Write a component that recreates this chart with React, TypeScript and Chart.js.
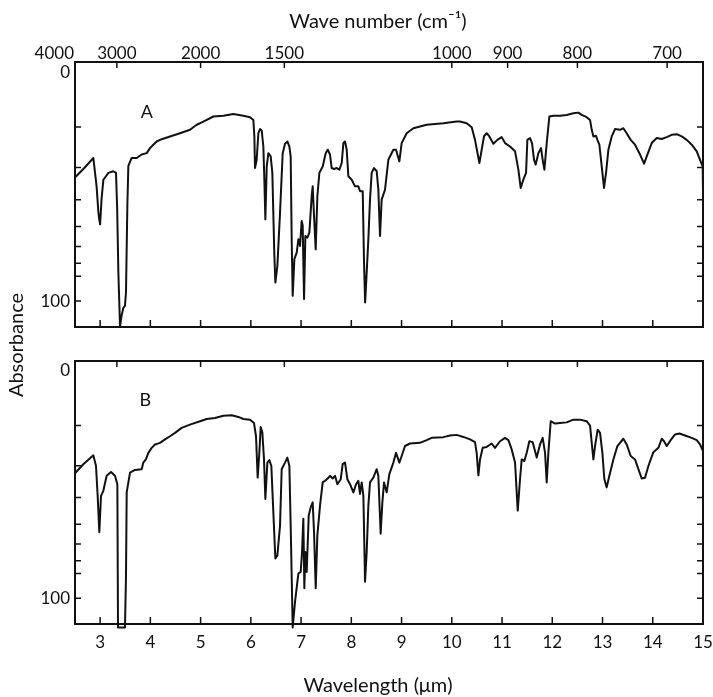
import React, { useEffect, useRef } from "react";
import { Chart, registerables } from "chart.js";

Chart.register(...registerables);

// ---- axis definitions ----
const wavelengthTicks = [3, 4, 5, 6, 7, 8, 9, 10, 11, 12, 13, 14, 15];
const waveNumberTicks = [4000, 3000, 2000, 1500, 1000, 900, 800, 700];
const absorbanceTickMarks = [24, 41.7, 55.7, 67.4, 76.1, 83.5, 89.1, 100];
const absorbanceLabels = [0, 100];

// ---- spectra: [wavelength (um), absorbance units] ----
const spectrumA: [number, number][] = [
  [2.5, 46], [2.68, 42], [2.865, 37.5], [2.93, 50], [2.965, 61], [2.98, 64], [3.0, 66.5], [3.03, 55],
  [3.065, 47], [3.165, 44], [3.26, 43.3], [3.316, 44], [3.34, 60], [3.363, 87.5], [3.396, 111],
  [3.43, 106], [3.462, 103], [3.495, 102], [3.515, 96], [3.542, 58.5], [3.562, 41], [3.628, 37.5],
  [3.728, 37.5], [3.827, 36], [3.927, 35.4], [3.993, 33.2], [4.059, 31.7], [4.126, 30.3], [4.225, 29.3],
  [4.391, 28.1], [4.59, 26.7], [4.789, 25.2], [4.922, 23], [5.055, 21.6], [5.254, 19.4], [5.453, 19.1],
  [5.652, 18.3], [5.851, 19.1], [5.984, 19.7], [6.05, 20.9], [6.07, 28], [6.083, 41.9], [6.116, 38.3],
  [6.15, 26.7], [6.183, 24.9], [6.216, 25.5], [6.249, 32.5], [6.269, 47], [6.289, 64.3], [6.316, 41.2],
  [6.349, 35.4], [6.395, 36.8], [6.428, 44], [6.468, 80], [6.488, 91.9], [6.528, 84.6], [6.581, 61.4],
  [6.634, 35.4], [6.68, 31.3], [6.727, 30.3], [6.767, 32.5], [6.793, 36.8], [6.813, 73], [6.833, 97.7],
  [6.866, 81.7], [6.913, 78.8], [6.946, 73], [6.979, 75.9], [7.012, 65], [7.032, 67], [7.059, 99.1],
  [7.085, 71.6], [7.125, 72.3], [7.165, 70.1], [7.211, 54.2], [7.231, 49.9], [7.258, 62.9], [7.291, 77.4],
  [7.324, 54.2], [7.364, 44], [7.43, 41.2], [7.49, 35.4], [7.53, 33.9], [7.576, 36], [7.609, 41.9],
  [7.656, 42.3], [7.709, 41.9], [7.762, 42.6], [7.809, 39.7], [7.842, 31], [7.875, 30.3], [7.908, 33.9],
  [7.941, 45.5], [8.008, 47], [8.074, 49.9], [8.14, 49.9], [8.173, 52], [8.227, 52], [8.253, 83.2],
  [8.275, 100.6], [8.306, 87.5], [8.339, 73], [8.372, 55.7], [8.405, 44], [8.452, 41.9], [8.505, 43.3],
  [8.538, 51.3], [8.571, 71.6], [8.604, 55.7], [8.671, 51.3], [8.737, 38.3], [8.837, 33.9], [8.89, 33.9],
  [8.956, 39], [9.002, 31], [9.102, 26.7], [9.235, 24.5], [9.5, 23], [9.832, 22.3], [10.097, 21.6],
  [10.164, 21.6], [10.296, 22.3], [10.396, 24.1], [10.462, 29.6], [10.549, 39.7], [10.595, 33.9],
  [10.641, 28], [10.695, 26.7], [10.748, 28.1], [10.827, 31.3], [10.907, 29.6], [10.993, 28.4],
  [11.06, 31], [11.159, 32.5], [11.259, 34.6], [11.325, 42.6], [11.371, 50.6], [11.424, 47],
  [11.478, 44], [11.504, 29.6], [11.557, 28.8], [11.597, 31], [11.637, 38.3], [11.67, 40.4],
  [11.723, 35.4], [11.776, 33.2], [11.809, 38.3], [11.843, 42.6], [11.889, 31], [11.942, 19.4],
  [12.022, 19.1], [12.154, 19.1], [12.287, 18.7], [12.42, 18], [12.519, 17.7], [12.586, 18.7],
  [12.685, 19.7], [12.752, 20.9], [12.785, 25.2], [12.818, 28.1], [12.871, 27.8], [12.898, 29.6],
  [12.937, 31.7], [12.984, 41.2], [13.03, 50.6], [13.07, 44], [13.117, 33.9], [13.183, 28.1],
  [13.249, 24.9], [13.349, 25.2], [13.415, 24.5], [13.481, 26.7], [13.561, 29.6], [13.647, 31.7],
  [13.747, 36], [13.827, 40], [13.88, 36.8], [13.979, 31], [14.079, 28.8], [14.178, 29.2],
  [14.278, 28.4], [14.377, 27.4], [14.477, 27.1], [14.576, 28.1], [14.676, 29.6], [14.776, 31.7],
  [14.875, 34.6], [14.941, 38.3], [14.994, 41.2], [15.0, 53],
];

const spectrumB: [number, number][] = [
  [2.5, 45], [2.666, 41], [2.865, 37.1], [2.918, 41.8], [2.951, 54.9], [2.984, 70.9], [3.018, 54.9],
  [3.064, 52.7], [3.13, 46.1], [3.217, 44.4], [3.296, 46.1], [3.343, 49.8], [3.356, 112.8], [3.495, 112.8],
  [3.515, 90], [3.529, 53.4], [3.595, 44.7], [3.694, 43.5], [3.827, 43.2], [3.86, 40.3], [3.913, 38.8],
  [3.96, 36], [4.026, 33.8], [4.093, 32.3], [4.192, 31.6], [4.292, 30.1], [4.391, 28.7], [4.491, 27.2],
  [4.623, 25], [4.789, 23.6], [4.988, 22.1], [5.121, 21.1], [5.287, 20.7], [5.453, 19.7], [5.619, 19.5],
  [5.752, 20.2], [5.851, 21.1], [5.984, 21.4], [6.063, 22.9], [6.103, 28.7], [6.136, 46.9], [6.169, 36],
  [6.196, 24.6], [6.229, 27], [6.262, 38.9], [6.289, 56.3], [6.329, 40.3], [6.369, 39.2], [6.408, 41.8],
  [6.448, 62.2], [6.488, 82.5], [6.528, 81.1], [6.581, 68], [6.614, 43.2], [6.68, 40.3], [6.727, 38.1],
  [6.767, 41.8], [6.793, 68], [6.833, 112.8], [6.88, 101.5], [6.946, 89.1], [6.992, 88.4], [7.019, 79.6],
  [7.045, 65], [7.065, 95.6], [7.085, 79.6], [7.112, 88.4], [7.152, 63.6], [7.191, 60], [7.231, 57.8],
  [7.258, 70.9], [7.291, 95.6], [7.324, 72.3], [7.377, 59.2], [7.43, 49], [7.477, 48.3], [7.53, 47.3],
  [7.576, 46.1], [7.629, 47.3], [7.676, 46.1], [7.722, 49.8], [7.789, 47.6], [7.828, 41], [7.875, 40.3],
  [7.921, 47.6], [7.974, 49.8], [8.041, 53.4], [8.094, 49.8], [8.14, 48.3], [8.173, 54.1], [8.207, 49],
  [8.24, 54.9], [8.273, 92.7], [8.306, 79.6], [8.339, 59.2], [8.372, 49], [8.438, 46.9], [8.505, 43.2],
  [8.538, 46.1], [8.584, 71.6], [8.618, 57.8], [8.651, 49], [8.704, 53.4], [8.757, 45.4], [8.837, 40.3],
  [8.89, 36], [8.956, 40.3], [9.002, 37.4], [9.069, 33], [9.168, 31.9], [9.367, 31.6], [9.5, 30.4],
  [9.6, 29.4], [9.832, 29.1], [9.965, 28.4], [10.097, 28.1], [10.23, 29], [10.363, 30.1], [10.462, 31.3],
  [10.495, 36], [10.529, 45.9], [10.562, 38.9], [10.615, 33.8], [10.695, 33.4], [10.794, 31.9],
  [10.86, 33.8], [10.96, 30.9], [11.059, 29.4], [11.126, 30.4], [11.192, 34.5], [11.259, 40.3],
  [11.312, 61.4], [11.358, 47.6], [11.391, 38.9], [11.444, 39.6], [11.491, 36], [11.544, 30.9],
  [11.61, 31.3], [11.69, 38.1], [11.756, 32.3], [11.809, 29.4], [11.856, 36], [11.889, 49], [11.922, 36],
  [11.969, 22.1], [12.055, 23.1], [12.154, 22.9], [12.287, 22.6], [12.42, 21.4], [12.552, 21.4],
  [12.685, 22.1], [12.752, 24], [12.785, 31.6], [12.818, 38.9], [12.851, 33], [12.904, 25.8],
  [12.951, 27.2], [12.997, 36], [13.037, 47.6], [13.083, 51.2], [13.136, 46.1], [13.216, 38.9],
  [13.296, 33], [13.415, 29.8], [13.481, 32.3], [13.561, 37.4], [13.647, 38.9], [13.714, 43.2],
  [13.78, 47.3], [13.846, 47], [13.913, 41.8], [14.012, 35.7], [14.112, 33.8], [14.178, 29.8],
  [14.225, 30.9], [14.278, 33], [14.357, 30.4], [14.443, 27.9], [14.53, 27.5], [14.643, 28.4],
  [14.776, 29.4], [14.875, 30.4], [14.941, 32.3], [15.0, 35.2],
];

const FONT = "Lato, 'DejaVu Sans', sans-serif";
const INK = "#111";

type PanelOpts = {
  panel: "A" | "B";
};

const framePlugin = {
  id: "irFrame",
  afterDraw(chart: any, _args: any, opts: PanelOpts) {
    const { ctx, chartArea: a, scales } = chart;
    const x = scales.x;
    const y = scales.y;
    ctx.save();
    ctx.strokeStyle = INK;
    ctx.fillStyle = INK;
    ctx.lineWidth = 2;
    ctx.strokeRect(a.left, a.top, a.right - a.left, a.bottom - a.top);

    ctx.lineWidth = 1.5;
    ctx.beginPath();
    for (const wn of waveNumberTicks) {
      const px = x.getPixelForValue(10000 / wn);
      if (px > a.left + 2 && px < a.right - 2) {
        ctx.moveTo(px, a.top);
        ctx.lineTo(px, a.top + 6);
      }
    }
    for (const w of wavelengthTicks) {
      const px = x.getPixelForValue(w);
      if (px > a.left + 2 && px < a.right - 2) {
        ctx.moveTo(px, a.bottom);
        ctx.lineTo(px, a.bottom - 7);
      }
    }
    for (const v of absorbanceTickMarks) {
      const py = y.getPixelForValue(v);
      ctx.moveTo(a.left, py);
      ctx.lineTo(a.left + 6, py);
      ctx.moveTo(a.right, py);
      ctx.lineTo(a.right - 6, py);
    }
    ctx.stroke();

    ctx.font = `17px ${FONT}`;
    ctx.textAlign = "right";
    ctx.textBaseline = "middle";
    for (const v of absorbanceLabels) {
      ctx.fillText(String(v), a.left - 5, y.getPixelForValue(v));
    }

    ctx.font = `18px ${FONT}`;
    ctx.textAlign = "center";
    if (opts.panel === "A") {
      ctx.fillText("A", x.getPixelForValue(3.93), y.getPixelForValue(17.4));
      ctx.font = `17px ${FONT}`;
      ctx.textBaseline = "alphabetic";
      for (const wn of waveNumberTicks) {
        const px = x.getPixelForValue(10000 / wn);
        if (wn === 4000) {
          ctx.textAlign = "right";
          ctx.fillText(String(wn), px - 1, a.top - 3);
        } else {
          ctx.textAlign = "center";
          ctx.fillText(String(wn), px, a.top - 3);
        }
      }
      ctx.font = `20px ${FONT}`;
      ctx.textAlign = "center";
      ctx.textBaseline = "middle";
      ctx.fillText("Wave number (cm\u207B\u00B9)", 378, 22);
    } else {
      ctx.fillText("B", x.getPixelForValue(3.9), y.getPixelForValue(12.7));
      ctx.font = `17px ${FONT}`;
      ctx.textBaseline = "top";
      ctx.textAlign = "center";
      for (const w of wavelengthTicks) {
        ctx.fillText(String(w), x.getPixelForValue(w), a.bottom + 10);
      }
      ctx.font = `20px ${FONT}`;
      ctx.textBaseline = "middle";
      ctx.fillText("Wavelength (\u03BCm)", 378, 686);
      ctx.save();
      ctx.translate(17, 345);
      ctx.rotate(-Math.PI / 2);
      ctx.textAlign = "center";
      ctx.textBaseline = "middle";
      ctx.fillText("Absorbance", 0, 0);
      ctx.restore();
    }
    ctx.restore();
  },
};

function makeConfig(data: [number, number][], panel: "A" | "B", top: number, bottom: number): any {
  return {
    type: "line",
    data: {
      datasets: [
        {
          data: data.map(([w, v]) => ({ x: w, y: v })),
          borderColor: INK,
          borderWidth: 2,
          pointRadius: 0,
          tension: 0,
          fill: false,
          clip: false,
          borderJoinStyle: "round",
        },
      ],
    },
    options: {
      responsive: false,
      animation: false,
      layout: { padding: { left: 75, right: 10, top, bottom: 697 - bottom } },
      plugins: {
        legend: { display: false },
        tooltip: { enabled: false },
        title: { display: false },
        irFrame: { panel },
      },
      scales: {
        x: { type: "linear", min: 2.5, max: 15, display: false },
        y: { type: "linear", min: -4.4, max: 111.3, reverse: true, display: false },
      },
    },
    plugins: [framePlugin],
  };
}

export default function App() {
  const refA = useRef<HTMLCanvasElement>(null);
  const refB = useRef<HTMLCanvasElement>(null);

  useEffect(() => {
    const ca = new Chart(refA.current!, makeConfig(spectrumA, "A", 62, 327));
    const cb = new Chart(refB.current!, makeConfig(spectrumB, "B", 361, 624));
    return () => {
      ca.destroy();
      cb.destroy();
    };
  }, []);

  const cs: React.CSSProperties = { position: "absolute", left: 0, top: 0, width: 713, height: 697 };
  return (
    <div style={{ position: "absolute", left: 0, top: 0, width: 713, height: 697, background: "#fff" }}>
      <canvas ref={refA} width={713} height={697} style={cs} />
      <canvas ref={refB} width={713} height={697} style={cs} />
    </div>
  );
}
